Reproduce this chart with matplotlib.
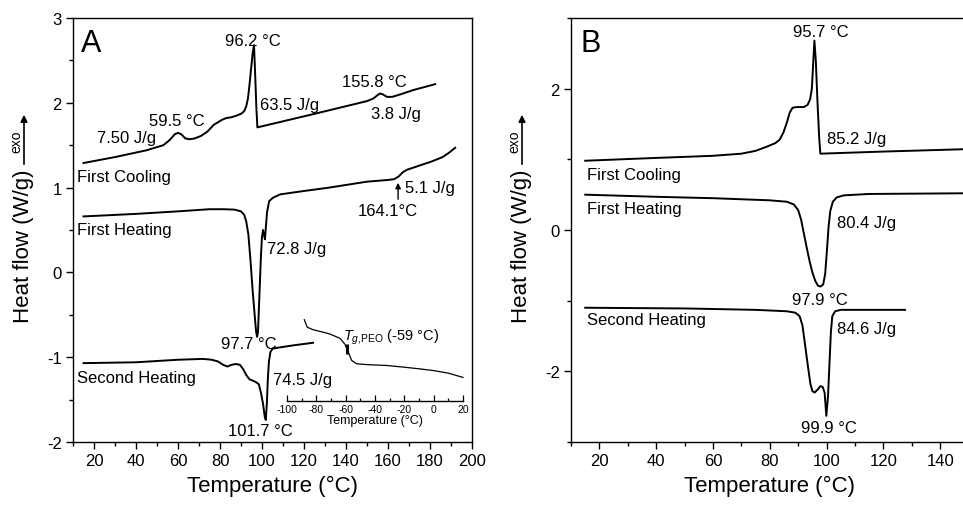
import matplotlib
matplotlib.use('Agg')
import matplotlib.pyplot as plt
from matplotlib.ticker import MultipleLocator

plt.rcParams['font.family'] = ['Liberation Sans', 'DejaVu Sans']
plt.rcParams['axes.unicode_minus'] = False
plt.rcParams['mathtext.fontset'] = 'custom'
plt.rcParams['mathtext.rm'] = 'Liberation Sans'
plt.rcParams['mathtext.it'] = 'Liberation Sans:italic'

# ---------------- Panel A data ----------------
a_cool_T = [15, 30, 45, 53, 56, 58.5, 60, 61.5, 63.5, 65.5, 68, 71, 74, 77, 79, 81, 83, 85.5, 88, 90,
            91.5, 92.5, 93.3, 94, 94.8, 95.6, 96.2, 96.8, 97.3, 97.8, 125, 145, 150, 153, 155, 156.2,
            157.5, 159.5, 162, 166, 172, 178, 182.5]
a_cool_y = [1.29, 1.36, 1.44, 1.50, 1.56, 1.63, 1.645, 1.63, 1.58, 1.57, 1.58, 1.61, 1.66, 1.74, 1.77,
            1.80, 1.82, 1.83, 1.85, 1.87, 1.90, 1.96, 2.05, 2.20, 2.40, 2.60, 2.68, 2.30, 1.95, 1.71,
            1.87, 1.99, 2.02, 2.05, 2.09, 2.11, 2.10, 2.07, 2.07, 2.10, 2.15, 2.19, 2.22]

a_heat1_T = [15, 40, 60, 75, 82, 87, 90, 91.5, 92.5, 93.5, 94.5, 95.5, 96.5, 97.2, 97.7, 98.1, 98.8,
             99.5, 100, 100.5, 101, 101.4, 102.4, 103.4, 105.2, 108.6, 120, 132, 150, 160, 163, 165,
             167, 169, 175, 181, 186, 189, 192]
a_heat1_y = [0.66, 0.69, 0.72, 0.745, 0.745, 0.74, 0.72, 0.68, 0.60, 0.45, 0.15, -0.20, -0.50, -0.70,
             -0.76, -0.70, -0.25, 0.20, 0.42, 0.50, 0.44, 0.39, 0.71, 0.84, 0.88, 0.92, 0.96, 1.00,
             1.07, 1.09, 1.10, 1.13, 1.18, 1.21, 1.26, 1.31, 1.36, 1.41, 1.47]

a_heat2_T = [15, 40, 60, 72, 76, 79, 81.5, 83.5, 85.5, 87.5, 89.5, 91, 92.5, 94, 96, 97.5, 98.5, 99.5,
             100.5, 101.3, 101.8, 102.3, 102.8, 103.3, 104, 105, 107, 115, 124.3]
a_heat2_y = [-1.07, -1.06, -1.03, -1.02, -1.03, -1.05, -1.09, -1.11, -1.09, -1.08, -1.09, -1.14, -1.21,
             -1.26, -1.28, -1.30, -1.32, -1.42, -1.55, -1.70, -1.74, -1.55, -1.25, -1.05, -0.94, -0.90,
             -0.89, -0.86, -0.83]

# inset (glass transition)
ins_T = [-88.2, -86.2, -82, -76, -70.7, -63.9, -60.5, -58.2, -55.9, -52.5, -45, -32, -20, -9.3, 0, 10, 20]
ins_y = [-0.561, -0.65, -0.68, -0.705, -0.73, -0.78, -0.85, -0.945, -1.04, -1.08, -1.09, -1.10, -1.12,
         -1.14, -1.16, -1.19, -1.24]
tg_T = [-59]
tg_y = [-0.91]

# ---------------- Panel B data ----------------
b_cool_T = [15, 40, 60, 70, 75, 79, 82, 83.5, 84.8, 86, 87, 88, 89.5, 92, 93.3, 94.2, 94.8, 95.2, 95.7,
            96.2, 96.8, 97.4, 97.8, 120, 150]
b_cool_y = [0.98, 1.02, 1.05, 1.08, 1.12, 1.18, 1.23, 1.28, 1.38, 1.52, 1.66, 1.73, 1.74, 1.74, 1.77,
            1.85, 2.00, 2.30, 2.68, 2.40, 1.80, 1.30, 1.08, 1.11, 1.145]

b_heat1_T = [15, 40, 60, 80, 86, 88.5, 90, 91, 92, 93, 94, 95, 96, 97, 97.9, 98.8, 99.5, 100.1, 100.7,
             101.3, 102.2, 103.5, 106, 115, 150]
b_heat1_y = [0.50, 0.47, 0.45, 0.42, 0.40, 0.36, 0.28, 0.15, -0.05, -0.25, -0.44, -0.60, -0.72, -0.79,
             -0.80, -0.77, -0.62, -0.30, 0.05, 0.27, 0.40, 0.46, 0.49, 0.51, 0.52]

b_heat2_T = [15, 50, 75, 86, 89, 90.5, 91.5, 92.5, 93.5, 94.3, 95, 95.8, 96.8, 97.8, 98.6, 99.3, 99.9,
             100.5, 101, 101.5, 102, 103, 105, 127.6]
b_heat2_y = [-1.10, -1.11, -1.13, -1.15, -1.17, -1.22, -1.35, -1.65, -1.95, -2.18, -2.28, -2.30, -2.26,
             -2.21, -2.22, -2.30, -2.63, -2.35, -1.90, -1.45, -1.22, -1.15, -1.13, -1.13]

W, H = 963, 506
fig = plt.figure(figsize=(W / 100, H / 100), dpi=100)


def px_axes(l, t, r, b):
    return fig.add_axes([l / W, 1 - b / H, (r - l) / W, (b - t) / H])


def style(ax):
    for s in ax.spines.values():
        s.set_linewidth(1.0)
    ax.tick_params(which='both', direction='out', top=False, right=False, width=1.0,
                   labelsize=12, pad=3)
    ax.tick_params(which='major', length=5)
    ax.tick_params(which='minor', length=3)


LW = 1.4
TFS = 12

# ---------------- Panel A ----------------
axA = px_axes(73, 19, 472, 443)
axA.set_xlim(10, 200)
axA.set_ylim(-2, 3)
axA.xaxis.set_major_locator(MultipleLocator(20))
axA.xaxis.set_minor_locator(MultipleLocator(10))
axA.yaxis.set_major_locator(MultipleLocator(1))
axA.yaxis.set_minor_locator(MultipleLocator(0.5))
style(axA)
axA.plot(a_cool_T, a_cool_y, color='k', lw=LW)
axA.plot(a_heat1_T, a_heat1_y, color='k', lw=LW)
axA.plot(a_heat2_T, a_heat2_y, color='k', lw=LW)
axA.set_xlabel('Temperature (°C)', fontsize=16, labelpad=5)

axA.text(14.0, 2.71, 'A', fontsize=22, ha='left', va='center')
axA.text(95.7, 2.73, '96.2 °C', fontsize=TFS, ha='center', va='center')
axA.text(112.9, 1.98, '63.5 J/g', fontsize=TFS, ha='center', va='center')
axA.text(153.3, 2.25, '155.8 °C', fontsize=TFS, ha='center', va='center')
axA.text(163.8, 1.87, '3.8 J/g', fontsize=TFS, ha='center', va='center')
axA.text(59.5, 1.79, '59.5 °C', fontsize=TFS, ha='center', va='center')
axA.text(35.7, 1.59, '7.50 J/g', fontsize=TFS, ha='center', va='center')
axA.text(11.9, 1.13, 'First Cooling', fontsize=TFS, ha='left', va='center')
axA.text(11.9, 0.51, 'First Heating', fontsize=TFS, ha='left', va='center')
axA.text(180.0, 1.00, '5.1 J/g', fontsize=TFS, ha='center', va='center')
axA.text(160.0, 0.73, '164.1°C', fontsize=TFS, ha='center', va='center')
axA.annotate('', xy=(164.8, 1.09), xytext=(164.8, 0.83),
             arrowprops=dict(arrowstyle='-|>', color='k', lw=1.0, mutation_scale=8))
axA.text(116.7, 0.28, '72.8 J/g', fontsize=TFS, ha='center', va='center')
axA.text(93.8, -0.835, '97.7 °C', fontsize=TFS, ha='center', va='center')
axA.text(11.9, -1.235, 'Second Heating', fontsize=TFS, ha='left', va='center')
axA.text(119.5, -1.26, '74.5 J/g', fontsize=TFS, ha='center', va='center')
axA.text(99.0, -1.86, '101.7 °C', fontsize=TFS, ha='center', va='center')

# inset
axI = px_axes(287, 300, 463, 402)
axI.set_xlim(-100, 20)
axI.set_ylim((273 - 402) / 85, (273 - 300) / 85)
axI.patch.set_alpha(0)
for s in ['left', 'right', 'top']:
    axI.spines[s].set_visible(False)
axI.spines['bottom'].set_linewidth(1.0)
axI.set_yticks([])
axI.xaxis.set_major_locator(MultipleLocator(20))
axI.xaxis.set_minor_locator(MultipleLocator(10))
axI.tick_params(which='both', direction='in', top=False, labelsize=7.5, pad=2, width=0.9)
axI.tick_params(which='major', length=4)
axI.tick_params(which='minor', length=2.5)
axI.set_xlabel('Temperature (°C)', fontsize=9, labelpad=0)
axI.plot(ins_T, ins_y, color='k', lw=0.9, clip_on=False)
axI.plot(tg_T, tg_y, color='k', marker='|', ms=7, mew=2.2, ls='none', clip_on=False)
axI.text(-61.8, -0.80, r'$T_{g,\!\mathrm{PEO}}$ (-59 °C)', fontsize=10.5, ha='left', va='baseline')

# ---------------- Panel B ----------------
axB = px_axes(571, 19, 571 + 140 * 2.84, 443)
axB.set_xlim(10, 150)
axB.set_ylim(-3, 3)
axB.xaxis.set_major_locator(MultipleLocator(20))
axB.xaxis.set_minor_locator(MultipleLocator(10))
axB.yaxis.set_major_locator(MultipleLocator(2))
axB.yaxis.set_minor_locator(MultipleLocator(1))
style(axB)
axB.plot(b_cool_T, b_cool_y, color='k', lw=LW)
axB.plot(b_heat1_T, b_heat1_y, color='k', lw=LW)
axB.plot(b_heat2_T, b_heat2_y, color='k', lw=LW)
axB.set_xlabel('Temperature (°C)', fontsize=16, labelpad=5)

axB.text(13.2, 2.65, 'B', fontsize=22, ha='left', va='center')
axB.text(98.0, 2.81, '95.7 °C', fontsize=TFS, ha='center', va='center')
axB.text(110.4, 1.29, '85.2 J/g', fontsize=TFS, ha='center', va='center')
axB.text(15.6, 0.79, 'First Cooling', fontsize=TFS, ha='left', va='center')
axB.text(15.6, 0.30, 'First Heating', fontsize=TFS, ha='left', va='center')
axB.text(113.9, 0.11, '80.4 J/g', fontsize=TFS, ha='center', va='center')
axB.text(97.7, -0.98, '97.9 °C', fontsize=TFS, ha='center', va='center')
axB.text(15.6, -1.26, 'Second Heating', fontsize=TFS, ha='left', va='center')
axB.text(114.2, -1.40, '84.6 J/g', fontsize=TFS, ha='center', va='center')
axB.text(100.8, -2.79, '99.9 °C', fontsize=TFS, ha='center', va='center')

# y labels with exo arrows
for xc in (24, 522):
    fig.text(xc / W, 1 - 246 / H, 'Heat flow (W/g)', rotation=90, ha='center', va='center', fontsize=16)
    fig.text((xc - 8) / W, 1 - 142 / H, 'exo', rotation=90, ha='center', va='center', fontsize=10)
    axA.annotate('', xy=(xc / W, 1 - 113 / H), xytext=(xc / W, 1 - 168 / H),
                 xycoords='figure fraction', textcoords='figure fraction',
                 arrowprops=dict(arrowstyle='-|>', color='k', lw=1.2, mutation_scale=10))

fig.savefig('out.png', dpi=100)
